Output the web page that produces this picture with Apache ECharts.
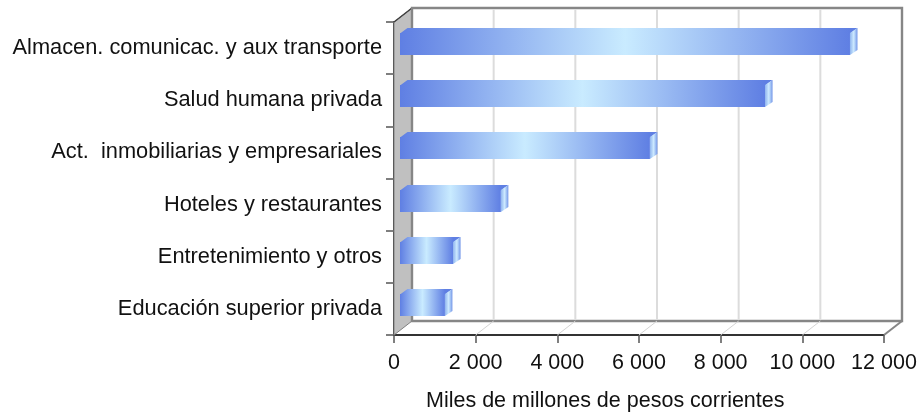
<!DOCTYPE html>
<html>
<head>
<meta charset="utf-8">
<script src="https://cdn.jsdelivr.net/npm/echarts@6/dist/echarts.min.js"></script>
<style>html,body{margin:0;padding:0;background:#fff}#main{width:918px;height:413px}</style>
</head>
<body>
<div id="main"></div>
<script>
var categories = ['Almacen. comunicac. y aux transporte', 'Salud humana privada', 'Act.  inmobiliarias y empresariales', 'Hoteles y restaurantes', 'Entretenimiento y otros', 'Educación superior privada'];
var values = [11020, 8940, 6120, 2470, 1300, 1100];
var xTicks = [0, 2000, 4000, 6000, 8000, 10000, 12000];
var xTickLabels = ['0', '2 000', '4 000', '6 000', '8 000', '10 000', '12 000'];

// fake 3d depth of the box, and where the bars sit inside it
var depthX = 18, depthY = 14;
var barDx = 6, barDy = 3.5, barH = 22, barDepthX = 7.5, barDepthY = 5;

var myChart = echarts.init(document.getElementById('main'));

function renderWalls(params, api) {
  var x0 = api.coord([0, 0])[0];
  var x1 = api.coord([12000, 0])[0];
  var halfBand = api.size([0, 1])[1] / 2;
  var yTop = api.coord([0, 0])[1] - halfBand;
  var yBot = api.coord([0, categories.length - 1])[1] + halfBand;
  return {
    type: 'group',
    children: [
      {type: 'polygon', shape: {points: [[x0, yTop], [x0 + depthX, yTop - depthY], [x0 + depthX, yBot - depthY], [x0, yBot]]},
        style: {fill: '#c0c0c0', stroke: '#808080', lineWidth: 1}},
      {type: 'polyline', shape: {points: [[x0, yTop], [x0 + depthX, yTop - depthY]]}, style: {stroke: '#404040', lineWidth: 1.5, fill: 'none'}},
      {type: 'rect', shape: {x: x0 + depthX, y: yTop - depthY, width: x1 - x0, height: yBot - yTop},
        style: {fill: '#fff', stroke: '#868686', lineWidth: 2.4}},
      {type: 'polyline', shape: {points: [[x1, yBot], [x1 + depthX, yBot - depthY]]}, style: {stroke: '#868686', lineWidth: 2, fill: 'none'}}
    ]
  };
}

function renderGridLine(params, api) {
  var x = api.coord([api.value(0), 0])[0];
  var halfBand = api.size([0, 1])[1] / 2;
  var yTop = api.coord([0, 0])[1] - halfBand;
  var yBot = api.coord([0, categories.length - 1])[1] + halfBand;
  return {
    type: 'group',
    children: [
      {type: 'line', shape: {x1: x + depthX, y1: yTop - depthY + 1.5, x2: x + depthX, y2: yBot - depthY - 1.5}, style: {stroke: '#dcdcdc', lineWidth: 2}},
      {type: 'line', shape: {x1: x, y1: yBot, x2: x + depthX, y2: yBot - depthY}, style: {stroke: '#d4d4d4', lineWidth: 1}}
    ]
  };
}

function renderBar(params, api) {
  var i = api.value(1);
  var c = api.coord([0, i]);
  var left = c[0] + barDx;
  var right = left + api.size([api.value(0), 0])[0];
  var top = Math.floor(c[1] - barDy - barH / 2);
  var bot = top + barH;
  var w = right - left;
  // same gradient in page coords so the top face joins the front without a seam
  var fill = new echarts.graphic.LinearGradient(left, 0, right, 0, [
    {offset: 0, color: '#5f7fe3'},
    {offset: 0.5, color: '#c9ebff'},
    {offset: 1, color: '#5f7fe3'}
  ], true);
  var sideFill = new echarts.graphic.LinearGradient(0, 0, 1, 0, [
    {offset: 0, color: '#8fb4ef'},
    {offset: 0.5, color: '#cdeaff'},
    {offset: 1, color: '#7396e8'}
  ]);
  return {
    type: 'group',
    children: [
      {type: 'polygon', shape: {points: [[left, top + 0.5], [left + barDepthX, top - barDepthY], [right + barDepthX, top - barDepthY], [right, top + 0.5]]},
        style: {fill: fill}},
      {type: 'polygon', shape: {points: [[right, top], [right + barDepthX, top - barDepthY], [right + barDepthX, bot - barDepthY], [right, bot]]},
        style: {fill: sideFill}},
      {type: 'rect', shape: {x: left, y: top, width: w, height: barH}, style: {fill: fill}}
    ]
  };
}

var option = {
  animation: false,
  backgroundColor: '#fff',
  title: {
    text: 'Miles de millones de pesos corrientes',
    left: 421, top: 385,
    textStyle: {fontFamily: 'Liberation Sans', fontSize: 21.5, fontWeight: 'normal', color: '#111'}
  },
  grid: {left: 394, top: 22, width: 490, height: 313, outerBoundsMode: 'none'},
  xAxis: {
    type: 'value', min: 0, max: 12000, interval: 2000, position: 'bottom',
    splitLine: {show: false},
    axisLine: {show: true, lineStyle: {color: '#333', width: 2}},
    axisTick: {show: true, length: 8, lineStyle: {color: '#555', width: 1.5}},
    axisLabel: {
      margin: 17, color: '#111', fontFamily: 'Liberation Sans', fontSize: 21.5,
      formatter: function (v) { return xTickLabels[xTicks.indexOf(v)]; }
    }
  },
  yAxis: {
    type: 'category', data: categories, inverse: true,
    axisLine: {show: true, onZero: false, lineStyle: {color: '#333', width: 2}},
    axisTick: {show: true, length: 8, lineStyle: {color: '#555', width: 1.5}},
    axisLabel: {margin: 12, color: '#111', fontFamily: 'Liberation Sans', fontSize: 21.8}
  },
  series: [
    {type: 'custom', renderItem: renderWalls, data: [[0, 0]], encode: {x: 0, y: 1}, clip: false, z: 1, silent: true},
    {type: 'custom', renderItem: renderGridLine, data: xTicks.slice(1, -1).map(function (v) { return [v, 0]; }), encode: {x: 0, y: 1}, clip: false, z: 2, silent: true},
    {type: 'custom', renderItem: renderBar, data: values.map(function (v, i) { return [v, i]; }), encode: {x: 0, y: 1}, clip: false, z: 3}
  ]
};

myChart.setOption(option);
</script>
</body>
</html>
